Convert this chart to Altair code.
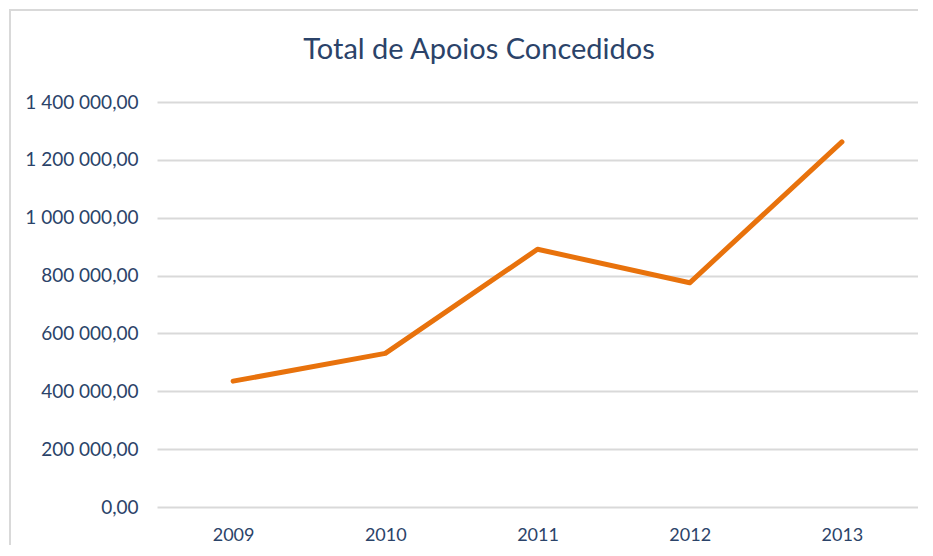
import altair as alt
import pandas as pd

years = ["2009", "2010", "2011", "2012", "2013"]
values = [435000, 531000, 891000, 775000, 1262000]
y_ticks = [0, 200000, 400000, 600000, 800000, 1000000, 1200000, 1400000]
title_text = "Total de Apoios Concedidos"

df = pd.DataFrame({"year": years, "value": values})

TEXT = "#2B4369"
FONT = "Lato"

frame = alt.Chart(df).mark_rule(color="#D9D9D9", strokeWidth=2).encode(
    x=alt.value(-147), y=alt.value(-92), y2=alt.value(446)
)
frame_top = alt.Chart(df).mark_rule(color="#D9D9D9", strokeWidth=2).encode(
    x=alt.value(-148), x2=alt.value(761), y=alt.value(-92)
)
title = alt.Chart(pd.DataFrame({"t": [title_text]})).mark_text(
    fontSize=29, font=FONT, color=TEXT, align="center", baseline="alphabetic"
).encode(text="t:N", x=alt.value(322), y=alt.value(-43))

line = alt.Chart(df).mark_line(color="#E8720C", strokeWidth=5, strokeCap="round", strokeJoin="round").encode(
    x=alt.X("year:O", sort=years, scale=alt.Scale(type="point", padding=0.5),
            axis=alt.Axis(title=None, domain=False, ticks=False, grid=False,
                          labelAngle=0, labelFontSize=18, labelColor=TEXT, labelFont=FONT,
                          labelPadding=19)),
    y=alt.Y("value:Q", scale=alt.Scale(domain=[0, 1400000], nice=False),
            axis=alt.Axis(title=None, domain=False, ticks=False, values=y_ticks,
                          gridColor="#D9D9D9", gridWidth=2,
                          labelFontSize=19, labelColor=TEXT, labelFont=FONT, labelPadding=19,
                          labelExpr="replace(replace(format(datum.value, ',.2f'), /,/g, ' '), '.', ',')")),
)

chart = alt.layer(frame, frame_top, title, line).properties(
    width=761, height=405,
    autosize=alt.AutoSizeParams(type="none"),
    padding={"left": 149, "top": 94, "right": 0, "bottom": 38},
).configure_view(stroke=None)

chart.save("out.html", embed_options={"renderer": "svg", "actions": False})
